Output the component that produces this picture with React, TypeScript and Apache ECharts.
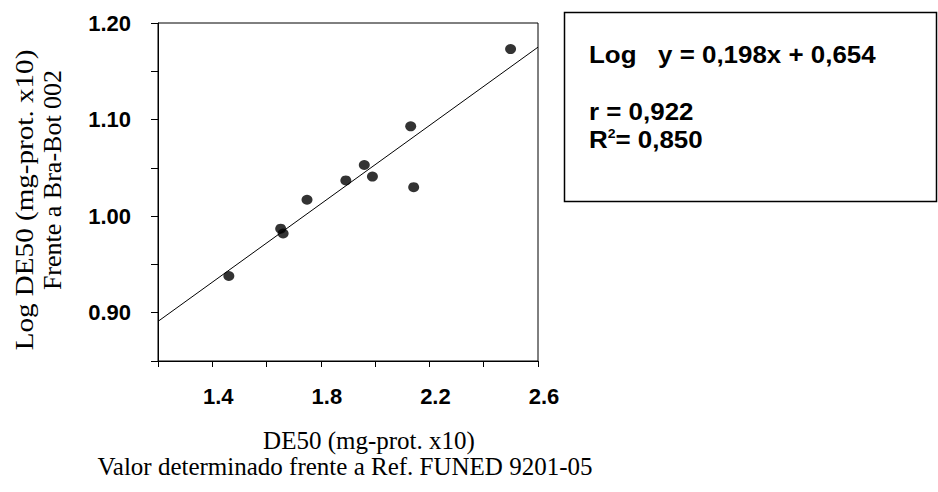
import React, { useEffect, useRef } from "react";
import * as echarts from "echarts";

// Data
const xValues = [1.461, 1.652, 1.661, 1.749, 1.892, 1.96, 1.99, 2.131, 2.142, 2.499];
const yValues = [0.938, 0.987, 0.982, 1.017, 1.037, 1.053, 1.041, 1.093, 1.03, 1.173];
const fitX = [1.2, 2.6];
const fitY = [0.891, 1.175];
const yTickLabels = ["0.90", "1.00", "1.10", "1.20"];
const xTickLabels = ["1.4", "1.8", "2.2", "2.6"];
const yNameLines = ["Log DE50 (mg-prot. x10)", "Frente a Bra-Bot 002"];
const xNameLines = ["DE50 (mg-prot. x10)", "Valor determinado frente a Ref. FUNED 9201-05"];
const equationText = "Log   y = 0,198x + 0,654";
const rText = "r = 0,922";
const r2Value = "= 0,850";

const SANS = "'Liberation Sans', Arial, sans-serif";
const SERIF = "'Liberation Serif', 'Times New Roman', serif";

export default function App() {
  const ref = useRef<HTMLDivElement>(null);
  useEffect(() => {
    if (!ref.current) return;
    const chart = echarts.init(ref.current, undefined, { renderer: "svg" });
    const points = xValues.map((x, i) => [x, yValues[i]]);
    const fit = fitX.map((x, i) => [x, fitY[i]]);
    chart.setOption({
      animation: false,
      backgroundColor: "#ffffff",
      grid: {
        left: 158,
        top: 23,
        width: 380,
        height: 338,
        show: true,
        borderColor: "#000",
        borderWidth: 1,
        backgroundColor: "transparent",
      },
      xAxis: {
        type: "value",
        min: 1.2,
        max: 2.6,
        interval: 0.2,
        axisLine: { show: true, lineStyle: { color: "#000", width: 1 } },
        axisTick: { show: true, length: 6, lineStyle: { color: "#000", width: 1 } },
        splitLine: { show: false },
        axisLabel: {
          color: "#000",
          fontFamily: SANS,
          fontWeight: "bold",
          fontSize: 22,
          margin: 24,
          padding: [0, 0, 0, 12],
          formatter: (v: number) => {
            const s = v.toFixed(1);
            return xTickLabels.includes(s) ? s : "";
          },
        },
      },
      yAxis: {
        type: "value",
        min: 0.85,
        max: 1.2,
        interval: 0.05,
        axisLine: { show: true, lineStyle: { color: "#000", width: 1 } },
        axisTick: { show: true, length: 7, lineStyle: { color: "#000", width: 1 } },
        splitLine: { show: false },
        axisLabel: {
          color: "#000",
          fontFamily: SANS,
          fontWeight: "bold",
          fontSize: 22,
          margin: 27,
          padding: [0, 0, 5, 0],
          formatter: (v: number) => {
            const s = v.toFixed(2);
            return yTickLabels.includes(s) ? s : "";
          },
        },
      },
      series: [
        {
          type: "line",
          data: fit,
          symbol: "none",
          lineStyle: { color: "#000", width: 1 },
          silent: true,
          z: 1,
        },
        {
          type: "scatter",
          data: points,
          symbol: "circle",
          symbolSize: [11, 10],
          itemStyle: { color: "#000" },
          z: 2,
        },
      ],
      graphic: [
        {
          type: "rect",
          shape: { x: 564.5, y: 12.5, width: 372, height: 189 },
          style: { fill: "#fff", stroke: "#000", lineWidth: 1.5 },
        },
        {
          type: "text",
          x: 589,
          y: 54,
          scaleX: 1.08,
          style: {
            text: equationText,
            font: `bold 24px ${SANS}`,
            fill: "#000",
            textAlign: "left",
            textVerticalAlign: "middle",
          },
        },
        {
          type: "text",
          x: 589,
          y: 111,
          scaleX: 1.08,
          style: {
            text: rText,
            font: `bold 24px ${SANS}`,
            fill: "#000",
            textAlign: "left",
            textVerticalAlign: "middle",
          },
        },
        {
          type: "text",
          x: 589,
          y: 139,
          scaleX: 1.08,
          style: {
            text: "{a|R}{s|2}{a|" + r2Value + "}",
            fill: "#000",
            textAlign: "left",
            textVerticalAlign: "middle",
            rich: {
              a: { font: `bold 24px ${SANS}`, fill: "#000", verticalAlign: "bottom" },
              s: { font: `bold 13px ${SANS}`, fill: "#000", verticalAlign: "top" },
            },
          },
        },
        {
          type: "text",
          x: 24,
          y: 200,
          rotation: Math.PI / 2,
          scaleX: 1.12,
          style: {
            text: yNameLines[0],
            font: `26px ${SERIF}`,
            fill: "#000",
            textAlign: "center",
            textVerticalAlign: "middle",
          },
        },
        {
          type: "text",
          x: 52,
          y: 180,
          rotation: Math.PI / 2,
          style: {
            text: yNameLines[1],
            font: `26px ${SERIF}`,
            fill: "#000",
            textAlign: "center",
            textVerticalAlign: "middle",
          },
        },
        {
          type: "text",
          x: 369,
          y: 440,
          style: {
            text: xNameLines[0],
            font: `25px ${SERIF}`,
            fill: "#000",
            textAlign: "center",
            textVerticalAlign: "middle",
          },
        },
        {
          type: "text",
          x: 345,
          y: 466,
          style: {
            text: xNameLines[1],
            font: `25px ${SERIF}`,
            fill: "#000",
            textAlign: "center",
            textVerticalAlign: "middle",
          },
        },
      ],
    });
    return () => chart.dispose();
  }, []);
  return (
    <div
      ref={ref}
      style={{ position: "fixed", left: 0, top: 0, width: 938, height: 492, background: "#fff" }}
    />
  );
}
